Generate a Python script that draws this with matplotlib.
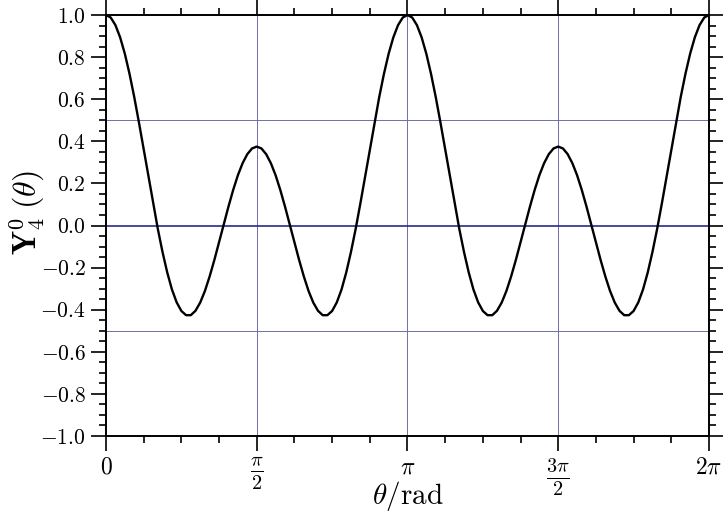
import matplotlib
matplotlib.use('Agg')
import matplotlib.pyplot as plt
import numpy as np
from matplotlib.ticker import MultipleLocator, FuncFormatter

plt.rcParams['mathtext.fontset'] = 'cm'
plt.rcParams['font.family'] = 'serif'
plt.rcParams['font.serif'] = ['cmr10', 'DejaVu Serif']
plt.rcParams['axes.formatter.use_mathtext'] = True

# Y_4^0(theta), values every pi/64 from 0 to 2*pi
half_period = [1.000, 0.988, 0.952, 0.894, 0.816, 0.720, 0.610, 0.489, 0.362, 0.232,
               0.105, -0.016, -0.126, -0.223, -0.304, -0.365, -0.406, -0.426, -0.426, -0.405,
               -0.366, -0.311, -0.242, -0.164, -0.080, 0.006, 0.090, 0.169, 0.239, 0.296,
               0.339, 0.366, 0.375, 0.366, 0.339, 0.296, 0.239, 0.169, 0.090, 0.006,
               -0.080, -0.164, -0.242, -0.311, -0.366, -0.405, -0.426, -0.426, -0.406, -0.365,
               -0.304, -0.223, -0.126, -0.016, 0.105, 0.232, 0.362, 0.489, 0.610, 0.720,
               0.816, 0.894, 0.952, 0.988, 1.000]
y_vals = half_period + half_period[1:]
theta = np.linspace(0, 2 * np.pi, len(y_vals))

x_ticks = [0, np.pi / 2, np.pi, 3 * np.pi / 2, 2 * np.pi]
x_ticklabels = [r'$0$', r'$\frac{\pi}{2}$', r'$\pi$', r'$\frac{3\pi}{2}$', r'$2\pi$']
grid_x = [np.pi / 2, np.pi, 3 * np.pi / 2]
grid_y = [0.5, -0.5]

fig = plt.figure(figsize=(7.23, 5.12), dpi=100)
ax = fig.add_axes([0.1466, 0.1484, 0.8340, 0.8223])

# thin guide lines
for gx in grid_x:
    ax.axvline(gx, color='#6f6fa8', lw=0.7, zorder=1)
for gy in grid_y:
    ax.axhline(gy, color='#6f6fa8', lw=0.7, zorder=1)
ax.axhline(0, color='#2a2a8a', lw=1.2, zorder=1)

ax.plot(theta, y_vals, color='black', lw=1.7, zorder=3)

ax.set_xlim(0, 2 * np.pi)
ax.set_ylim(-1.0, 1.0)

ax.set_xticks(x_ticks)
ax.set_xticklabels(x_ticklabels, fontsize=17)
for lab in ax.get_xticklabels():
    if 'frac' in lab.get_text():
        lab.set_fontsize(21)
ax.xaxis.set_minor_locator(MultipleLocator(np.pi / 8))
ax.yaxis.set_major_locator(MultipleLocator(0.2))
ax.yaxis.set_minor_locator(MultipleLocator(0.05))
ax.yaxis.set_major_formatter(FuncFormatter(lambda v, p: r'$%.1f$' % v))

ax.tick_params(which='both', direction='out', top=True, right=True, width=1.2)
ax.tick_params(which='major', length=11)
ax.tick_params(axis='y', which='major', labelsize=15.5)
ax.tick_params(which='minor', length=5)

for s in ax.spines.values():
    s.set_linewidth(1.4)

ax.set_xlabel(r'$\theta/\mathrm{rad}$', fontsize=21)
ax.xaxis.set_label_coords(0.5, -0.102)
ax.set_ylabel(r'$\mathbf{Y}_4^0\;(\theta)$', fontsize=23)
ax.yaxis.set_label_coords(-0.098, 0.532)

plt.savefig('out.png', dpi=100)
